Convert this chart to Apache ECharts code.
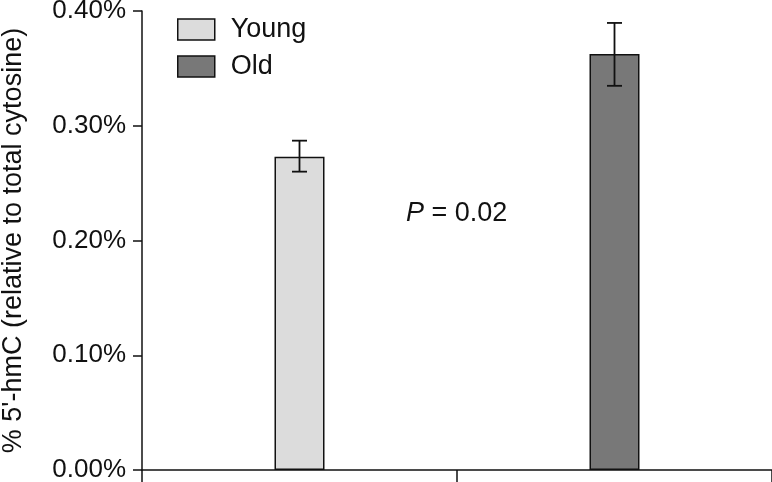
<!DOCTYPE html>
<html><head><meta charset="utf-8">
<script src="https://cdn.jsdelivr.net/npm/echarts@6/dist/echarts.min.js"></script>
<style>html,body{margin:0;padding:0;background:#fff}#c{width:772px;height:482px}</style>
</head><body><div id="c"></div>
<script>
const categories = ["Young", "Old"];
const means = [0.273, 0.3626];
const errLow = [0.260, 0.3348];
const errHigh = [0.287, 0.3896];
const barColors = ["#dcdcdc", "#787878"];
const yTicks = [0, 0.1, 0.2, 0.3, 0.4];
const yAxisTitle = "% 5'-hmC (relative to total cytosine)";
const pLabel = "= 0.02";

const FONT = "Liberation Sans, Arial, sans-serif";
const chart = echarts.init(document.getElementById('c'), null, {renderer: 'canvas'});

const barSeries = categories.map((name, i) => ({
  name: name,
  type: 'bar',
  barWidth: 50,
  barGap: '-100%',
  data: categories.map((_, j) => j === i ? means[i] : '-'),
  itemStyle: {color: barColors[i], borderColor: '#111', borderWidth: 1.5},
  z: 2
}));

const errData = categories.map((_, i) => [i, errLow[i], errHigh[i]]);

chart.setOption({
  animation: false,
  grid: {left: 142, right: 0, top: 11, bottom: 12, containLabel: false, outerBoundsMode: 'none'},
  legend: {
    orient: 'vertical', left: 172, top: 11,
    itemWidth: 37, itemHeight: 21, itemGap: 10,
    icon: 'rect',
    data: categories,
    textStyle: {fontFamily: FONT, fontSize: 27, color: '#111', padding: [0, 0, 0, 11]},
    itemStyle: {borderColor: '#111', borderWidth: 1.5}
  },
  xAxis: {
    type: 'category', data: categories, boundaryGap: true,
    axisLine: {lineStyle: {color: '#111', width: 1.5}},
    axisTick: {show: true, length: 12, alignWithLabel: false, lineStyle: {color: '#111', width: 1.5}},
    axisLabel: {show: false},
    splitLine: {show: false}
  },
  yAxis: {
    type: 'value', min: yTicks[0], max: yTicks[yTicks.length - 1], interval: 0.1,
    name: yAxisTitle, nameLocation: 'middle', nameGap: 115, nameRotate: 90,
    nameTextStyle: {fontFamily: FONT, fontSize: 27, color: '#111'},
    axisLine: {show: true, lineStyle: {color: '#111', width: 1.5}},
    axisTick: {show: true, length: 9, lineStyle: {color: '#111', width: 1.5}},
    axisLabel: {fontFamily: FONT, fontSize: 26, color: '#111', margin: 16,
      formatter: v => v.toFixed(2) + '%'},
    splitLine: {show: false}
  },
  series: barSeries.concat([{
    type: 'custom',
    name: 'err',
    data: errData,
    z: 5,
    renderItem: function (params, api) {
      const x = api.value(0);
      const lo = api.coord([x, api.value(1)]);
      const hi = api.coord([x, api.value(2)]);
      const hw = 7.5;
      const st = {stroke: '#111', lineWidth: 1.8};
      return {type: 'group', children: [
        {type: 'line', shape: {x1: lo[0], y1: lo[1], x2: hi[0], y2: hi[1]}, style: st},
        {type: 'line', shape: {x1: lo[0] - hw, y1: lo[1], x2: lo[0] + hw, y2: lo[1]}, style: st},
        {type: 'line', shape: {x1: hi[0] - hw, y1: hi[1], x2: hi[0] + hw, y2: hi[1]}, style: st}
      ]};
    }
  }]),
  graphic: [{
    type: 'text', left: 406, top: 200,
    style: {
      text: '{i|P} {n|' + pLabel + '}',
      rich: {
        i: {fontFamily: FONT, fontSize: 27, fontStyle: 'italic', fill: '#111'},
        n: {fontFamily: FONT, fontSize: 27, fill: '#111'}
      },
      font: '27px ' + FONT, fill: '#111'
    }
  }]
});
</script></body></html>
